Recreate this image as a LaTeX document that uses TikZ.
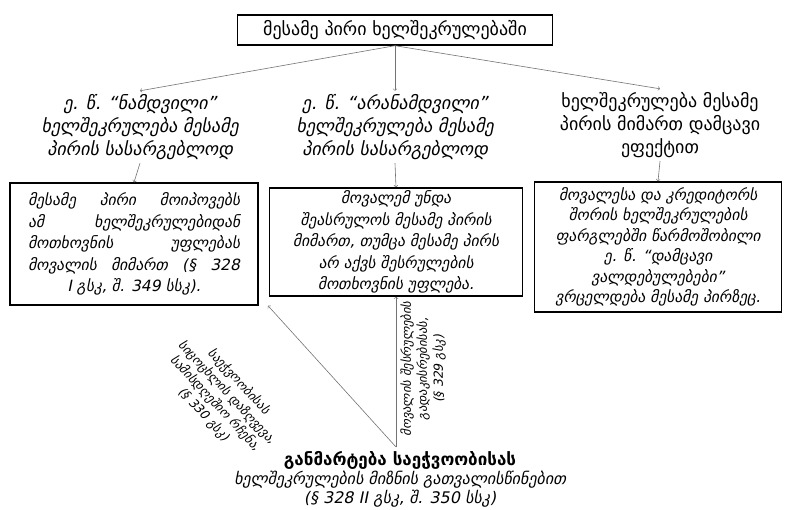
\documentclass[tikz,border=0pt]{standalone}
\usepackage{fontspec}
\setmainfont{DejaVu Sans}
\newfontfamily\geoit[FakeSlant=0.2]{DejaVu Sans}
\usetikzlibrary{arrows}
\newcommand{\fillline}[1]{\makebox[212pt][s]{#1}}
\tikzset{
  box/.style={draw=black, line width=1.4pt, inner sep=2pt, align=center},
  head/.style={align=center, font=\geoit\fontsize{18}{23}\selectfont},
  plainhead/.style={align=center, font=\fontsize{18}{23}\selectfont},
  body/.style={align=center, font=\geoit\fontsize{15.5}{21.5}\selectfont},
  note/.style={align=center, font=\geoit\fontsize{12.5}{16}\selectfont},
  link/.style={draw=black!55, line width=0.6pt, -to},
}

\begin{document}
\begin{tikzpicture}[x=1pt,y=-1pt]
			%%%%% START %%%%%
			\useasboundingbox (0, 0) rectangle (789, 510);
			
			\node[box, minimum width=315, minimum height=30, font=\fontsize{18}{22}\selectfont] (top) at (395, 30) {მესამე პირი ხელშეკრულებაში};
			
			\node[head] (real) at (140, 127) {ე. წ. “ნამდვილი”\\ ხელშეკრულება მესამე\\ პირის სასარგებლოდ};
			\node[head] (unreal) at (395, 127) {ე. წ. “არანამდვილი”\\ ხელშეკრულება მესამე\\ პირის სასარგებლოდ};
			\node[plainhead] (protect) at (660, 125) {ხელშეკრულება მესამე\\ პირის მიმართ დამცავი\\ ეფექტით};
			
			\node[box, body, minimum width=248, minimum height=122] (realbox) at (134, 244) {\fillline{მესამე პირი მოიპოვებს}\\ \fillline{ამ ხელშეკრულებიდან}\\ \fillline{მოთხოვნის უფლებას}\\ \fillline{მოვალის მიმართ (§ 328}\\ I გსკ, შ. 349 სსკ).};
			\node[box, body, minimum width=253, minimum height=108] (unrealbox) at (396, 242) {მოვალემ უნდა\\ შეასრულოს მესამე პირის\\ მიმართ, თუმცა მესამე პირს\\ არ აქვს შესრულების\\ მოთხოვნის უფლება.};
			\node[box, body, minimum width=247, minimum height=130, font=\geoit\fontsize{15.5}{20.5}\selectfont] (protectbox) at (658, 247) {მოვალესა და კრედიტორს\\ შორის ხელშეკრულების\\ ფარგლებში წარმოშობილი\\ ე. წ. “დამცავი\\ ვალდებულებები”\\ ვრცელდება მესამე პირზეც.};
			
			\node[align=center, font=\fontsize{16}{19}\selectfont] (doubt) at (400, 479) {{\bfseries\fontsize{17}{19}\selectfont განმარტება საეჭვოობისას}\\ {\geoit ხელშეკრულების მიზნის გათვალისწინებით}\\ {\geoit (§ 328 II გსკ, შ. 350 სსკ)}};
			\coordinate (apex) at (396, 447);
			
			\draw[link] (top.south) -- (real.north);
			\draw[link] (top.south) -- (unreal.north);
			\draw[link] (top.south) -- (protect.north);
			
			\draw[link] (real.south) -- (realbox.north);
			\draw[link] (unreal.south) -- (unrealbox.north);
			\draw[link] (protect.south) -- (protectbox.north);
			
			\draw[link] (apex) -- (realbox.south -| 268, 0);
			\draw[link] (apex) -- (unrealbox.south -| apex);
			
			\node[note, rotate=-47] (lifenote) at (221, 398) {საეჭვოობისას\\ სიცოცხლის დაზღვევა,\\ სამისდღეშიო რჩენა,\\ (§ 330 გსკ)};
			\node[note, rotate=90] (takeover) at (423, 369) {მოვალის შესრულების\\ გადაკისრებისას,\\ (§ 329 გსკ)};
			
			%%%%% END %%%%%
\end{tikzpicture}
\end{document}
